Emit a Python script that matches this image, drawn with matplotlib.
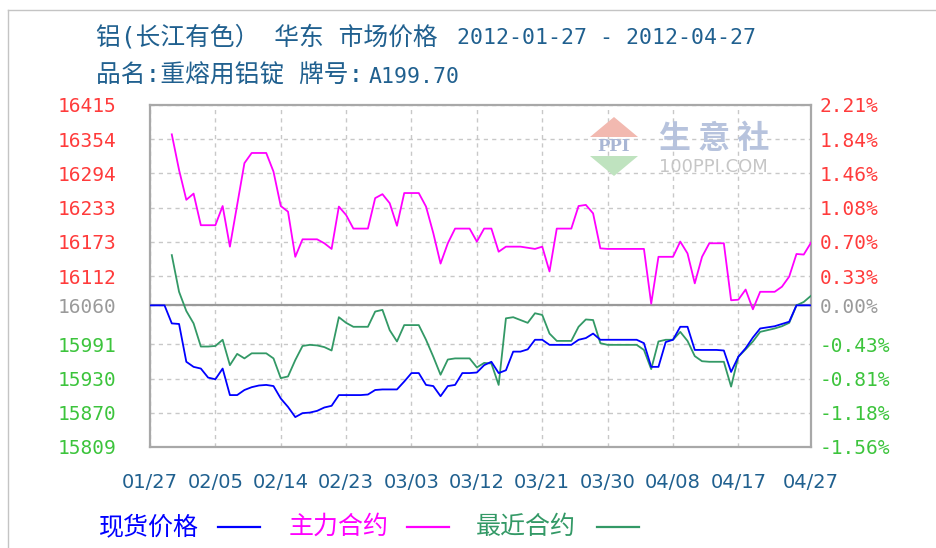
import matplotlib
matplotlib.use('Agg')

import pandas as pd
import matplotlib.pyplot as plt
from matplotlib.lines import Line2D
from matplotlib.patches import Polygon

# daily values, 2012-01-27 .. 2012-04-27 (weekends carry the last value)
start_date, end_date = '2012-01-27', '2012-04-27'

# 现货价格 (spot), from 01/27
spot = [16060, 16060, 16060, 16028, 16027, 15960, 15951, 15948, 15932, 15929,
        15948, 15901, 15901, 15910, 15915, 15918, 15919, 15917, 15895, 15880,
        15862, 15869, 15870, 15873, 15879, 15882, 15901, 15901, 15901, 15901,
        15902, 15910, 15911, 15911, 15911, 15925, 15940, 15940, 15919, 15917,
        15899, 15917, 15919, 15940, 15940, 15941, 15954, 15960, 15940, 15945,
        15978, 15978, 15982, 15999, 15999, 15990, 15990, 15990, 15990, 15999,
        16002, 16010, 15999, 15999, 15999, 15999, 15999, 15999, 15993, 15951,
        15951, 15995, 15999, 16022, 16022, 15981, 15981, 15981, 15981, 15980,
        15942, 15969, 15984, 16003, 16019, 16021, 16023, 16027, 16031, 16060,
        16060, 16060]

# 主力合约 (main contract), from 01/30
main_contract = [16363, 16300, 16247, 16258, 16202, 16202, 16202, 16236, 16164, 16238,
                 16312, 16330, 16330, 16330, 16297, 16236, 16226, 16146, 16177, 16177,
                 16177, 16170, 16160, 16235, 16220, 16196, 16196, 16196, 16250, 16257,
                 16241, 16201, 16259, 16259, 16259, 16235, 16188, 16134, 16170, 16196,
                 16196, 16196, 16173, 16196, 16196, 16155, 16164, 16164, 16164, 16162,
                 16160, 16164, 16120, 16196, 16196, 16196, 16236, 16238, 16223, 16161,
                 16160, 16160, 16160, 16160, 16160, 16160, 16063, 16146, 16146, 16146,
                 16173, 16152, 16099, 16146, 16170, 16170, 16170, 16069, 16070, 16088,
                 16053, 16084, 16084, 16084, 16093, 16111, 16151, 16150, 16171]

# 最近合约 (nearest contract), from 01/30
near_contract = [16149, 16084, 16050, 16028, 15987, 15987, 15988, 15999, 15954, 15974,
                 15966, 15975, 15975, 15975, 15966, 15931, 15934, 15963, 15988, 15990,
                 15989, 15986, 15980, 16039, 16029, 16022, 16022, 16022, 16049, 16052,
                 16016, 15996, 16025, 16025, 16025, 15999, 15969, 15937, 15964, 15966,
                 15966, 15966, 15950, 15958, 15957, 15919, 16037, 16039, 16034, 16029,
                 16046, 16043, 16010, 15997, 15997, 15997, 16022, 16035, 16034, 15993,
                 15990, 15990, 15990, 15990, 15990, 15981, 15947, 15996, 15999,
                 15999, 16013, 15997, 15970, 15961, 15960, 15960, 15960, 15916, 15969,
                 15982, 15996, 16013, 16016, 16019, 16023, 16029, 16060, 16066, 16077]

base_price = 16060
left_ticks = [16415, 16354, 16294, 16233, 16173, 16112, 16060, 15991, 15930, 15870, 15809]
right_labels = ['2.21%', '1.84%', '1.46%', '1.08%', '0.70%', '0.33%', '0.00%',
                '-0.43%', '-0.81%', '-1.18%', '-1.56%']
tick_dates = ['2012-01-27', '2012-02-05', '2012-02-14', '2012-02-23', '2012-03-03',
              '2012-03-12', '2012-03-21', '2012-03-30', '2012-04-08', '2012-04-17',
              '2012-04-27']
tick_labels = ['01/27', '02/05', '02/14', '02/23', '03/03', '03/12', '03/21',
               '03/30', '04/08', '04/17', '04/27']

title_cn = '铝(长江有色） 华东 市场价格'
title_dates = '2012-01-27 - 2012-04-27'
sub_cn = '品名:重熔用铝锭 牌号:'
sub_code = 'A199.70'
series_names = ['现货价格', '主力合约', '最近合约']

W, H = 936, 548
CJK = ['DejaVu Sans Mono', 'Noto Sans CJK SC']
MONO = 'DejaVu Sans Mono'
NAVY = '#20608f'
RED, GREY, GREEN = '#ff3b3b', '#9a9a9a', '#3cc43c'
line_colors = ['#0000ff', '#ff00ff', '#339966']


def fx(px):
    return px / W


def fy(py):
    return 1 - py / H


fig = plt.figure(figsize=(W / 100, H / 100), dpi=100)
fig.patch.set_facecolor('white')

# thin outer frame (left and top)
fig.add_artist(Line2D([fx(8), fx(8)], [fy(10), 0], color='#c4c4c4', lw=1))
fig.add_artist(Line2D([fx(8), 1], [fy(10), fy(10)], color='#c4c4c4', lw=1))

ax = fig.add_axes([fx(150), fy(447), fx(811) - fx(150), fy(105) - fy(447)])
dates = pd.date_range(start_date, end_date, freq='D')

ax.set_ylim(left_ticks[-1], left_ticks[0])
ax.set_xlim(dates[0], dates[-1])

# grid
ax.set_yticks(left_ticks)
ax.set_xticks(pd.to_datetime(tick_dates))
ax.grid(True, linestyle=(0, (3, 3)), color='#c8c8c8', lw=1)
ax.axhline(base_price, color='#999999', lw=1.6, zorder=2)

# watermark
fig.add_artist(Polygon([(fx(614), fy(117)), (fx(590), fy(137)), (fx(638), fy(137))],
                       closed=True, facecolor='#f2b9b0', edgecolor='none'))
fig.add_artist(Polygon([(fx(590), fy(156)), (fx(638), fy(156)), (fx(614), fy(176))],
                       closed=True, facecolor='#bfe3bf', edgecolor='none'))
fig.text(fx(614), fy(146), 'PPI', ha='center', va='center', fontsize=12,
         family='DejaVu Serif', fontweight='bold', color='#a9b6d4')
fig.text(fx(714), fy(139), '生 意 社', ha='center', va='center', fontsize=23,
         family='Noto Sans CJK SC', fontweight='bold', color='#b7c3dd')
fig.text(fx(713), fy(167), '100PPI.COM', ha='center', va='center', fontsize=13,
         family='DejaVu Sans', color='#c6c6c6')

# series
ax.plot(dates, spot, color=line_colors[0], lw=1.3, zorder=4)
ax.plot(dates[3:], main_contract, color=line_colors[1], lw=1.3, zorder=4)
ax.plot(dates[3:], near_contract, color=line_colors[2], lw=1.3, zorder=3)

for sp in ax.spines.values():
    sp.set_color('#a8a8a8')
    sp.set_linewidth(1.6)

# left axis labels
ax.set_yticklabels([str(v) for v in left_ticks], family=MONO, fontsize=14)
ax.tick_params(axis='y', length=0, pad=24)
for lbl, v in zip(ax.get_yticklabels(), left_ticks):
    lbl.set_color(RED if v > base_price else (GREY if v == base_price else GREEN))

# bottom labels
ax.set_xticklabels(tick_labels, family='DejaVu Sans', fontsize=14, color=NAVY)
ax.tick_params(axis='x', length=0, pad=19)

# right axis labels
ax2 = ax.twinx()
ax2.set_ylim(ax.get_ylim())
ax2.set_yticks(left_ticks)
ax2.set_yticklabels(right_labels, family=MONO, fontsize=14)
ax2.tick_params(axis='y', length=0, pad=6)
for lbl, v in zip(ax2.get_yticklabels(), left_ticks):
    lbl.set_color(RED if v > base_price else (GREY if v == base_price else GREEN))
for sp in ax2.spines.values():
    sp.set_visible(False)

# titles
fig.text(fx(96), fy(37), title_cn, family=CJK, fontsize=17.8, color=NAVY,
         ha='left', va='center')
fig.text(fx(457), fy(38), title_dates, family=MONO, fontsize=15.5, color=NAVY,
         ha='left', va='center')
fig.text(fx(96), fy(76), sub_cn, family=CJK, fontsize=17.8, color=NAVY,
         ha='left', va='center')
fig.text(fx(369), fy(77), sub_code, family=MONO, fontsize=15.5, color=NAVY,
         ha='left', va='center')

# legend
legend_x = [(99, 218), (289, 407), (476, 597)]
for (tx, lx), name, c in zip(legend_x, series_names, line_colors):
    fig.text(fx(tx), fy(527), name, family='Noto Sans CJK SC', fontsize=18,
             color=c, ha='left', va='center')
    fig.add_artist(Line2D([fx(lx), fx(lx + 42)], [fy(527), fy(527)], color=c, lw=1.6))

fig.savefig('out.png', dpi=100, facecolor='white')
